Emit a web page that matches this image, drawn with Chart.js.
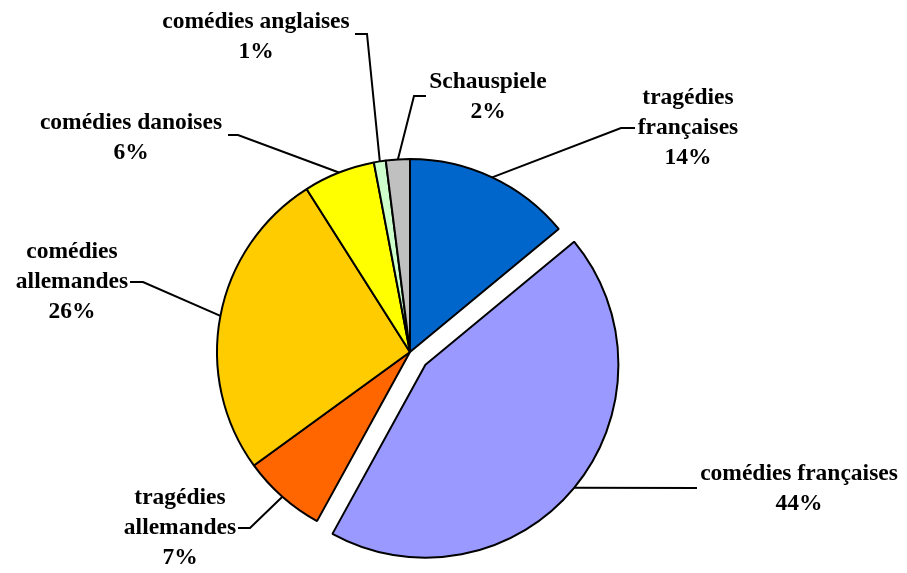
<!DOCTYPE html>
<html>
<head>
<meta charset="utf-8">
<script src="https://cdn.jsdelivr.net/npm/chart.js@4/dist/chart.umd.min.js"></script>
<style>
  html, body { margin: 0; padding: 0; background: #fff; }
  #wrap { width: 907px; height: 573px; }
</style>
</head>
<body>
<div id="wrap"><canvas id="pieChart"></canvas></div>
<script>
// data
const categories = [
    "tragédies françaises",
    "comédies françaises",
    "tragédies allemandes",
    "comédies allemandes",
    "comédies danoises",
    "comédies anglaises",
    "Schauspiele",
];
const shares = [14, 44, 7, 26, 6, 1, 2];

// styling
const colors = ["#0066CC", "#9999FF", "#FF6600", "#FFCC00", "#FFFF00", "#CCFFCC", "#C0C0C0"];
const explode = [0, 20, 0, 0, 0, 0, 0];

// label placement: text lines, text block centre, leader end and elbow x
const labelLines = [
    ["tragédies", "françaises"],
    ["comédies françaises"],
    ["tragédies", "allemandes"],
    ["comédies", "allemandes"],
    ["comédies danoises"],
    ["comédies anglaises"],
    ["Schauspiele"],
];
const labelCenters = [[688, 128], [799, 489], [180, 528], [72, 282], [131, 138], [256, 37], [488, 97]];
const leaderEnds = [[635, 128, 621], [697, 488, 697], [238, 528, 250], [130, 282, 143], [228, 135, 238], [355, 34, 367], [426, 96, 414]];

const FONT = "bold 23.5px 'Liberation Serif', 'Times New Roman', serif";
const LINE_H = 30;

const explodePlugin = {
    id: "explodeSlices",
    afterDatasetUpdate(chart, args) {
        args.meta.data.forEach((arc, i) => {
            const d = explode[i] || 0;
            if (!d) return;
            const mid = (arc.startAngle + arc.endAngle) / 2;
            arc.x += Math.cos(mid) * d;
            arc.y += Math.sin(mid) * d;
        });
    },
};

const labelPlugin = {
    id: "leaderLabels",
    afterDatasetsDraw(chart) {
        const ctx = chart.ctx;
        const arcs = chart.getDatasetMeta(0).data;
        const total = shares.reduce((a, b) => a + b, 0);
        ctx.save();
        ctx.font = FONT;
        ctx.fillStyle = "#000";
        ctx.strokeStyle = "#000";
        ctx.lineWidth = 2;
        ctx.textAlign = "center";
        ctx.textBaseline = "middle";
        arcs.forEach((arc, i) => {
            const mid = (arc.startAngle + arc.endAngle) / 2;
            const ax = arc.x + Math.cos(mid) * arc.outerRadius;
            const ay = arc.y + Math.sin(mid) * arc.outerRadius;
            const [ex, ey, bx] = leaderEnds[i];
            ctx.beginPath();
            ctx.moveTo(ax, ay);
            ctx.lineTo(bx, ey);
            ctx.lineTo(ex, ey);
            ctx.stroke();

            const lines = labelLines[i].concat([Math.round(shares[i] / total * 100) + "%"]);
            const [cx, cy] = labelCenters[i];
            const top = cy - (lines.length - 1) * LINE_H / 2;
            lines.forEach((t, k) => ctx.fillText(t, cx, top + k * LINE_H));
        });
        ctx.restore();
    },
};

new Chart(document.getElementById("pieChart"), {
    type: "pie",
    data: {
        labels: categories,
        datasets: [
            {
                data: shares,
                backgroundColor: colors,
                borderColor: "#000",
                borderWidth: 2,
                radius: 193,
            },
        ],
    },
    options: {
        responsive: true,
        maintainAspectRatio: false,
        animation: false,
        layout: { padding: { left: 0, right: 87, top: 131, bottom: 0 } },
        plugins: {
            legend: { display: false },
            tooltip: { enabled: false },
        },
    },
    plugins: [explodePlugin, labelPlugin],
});
</script>
</body>
</html>
